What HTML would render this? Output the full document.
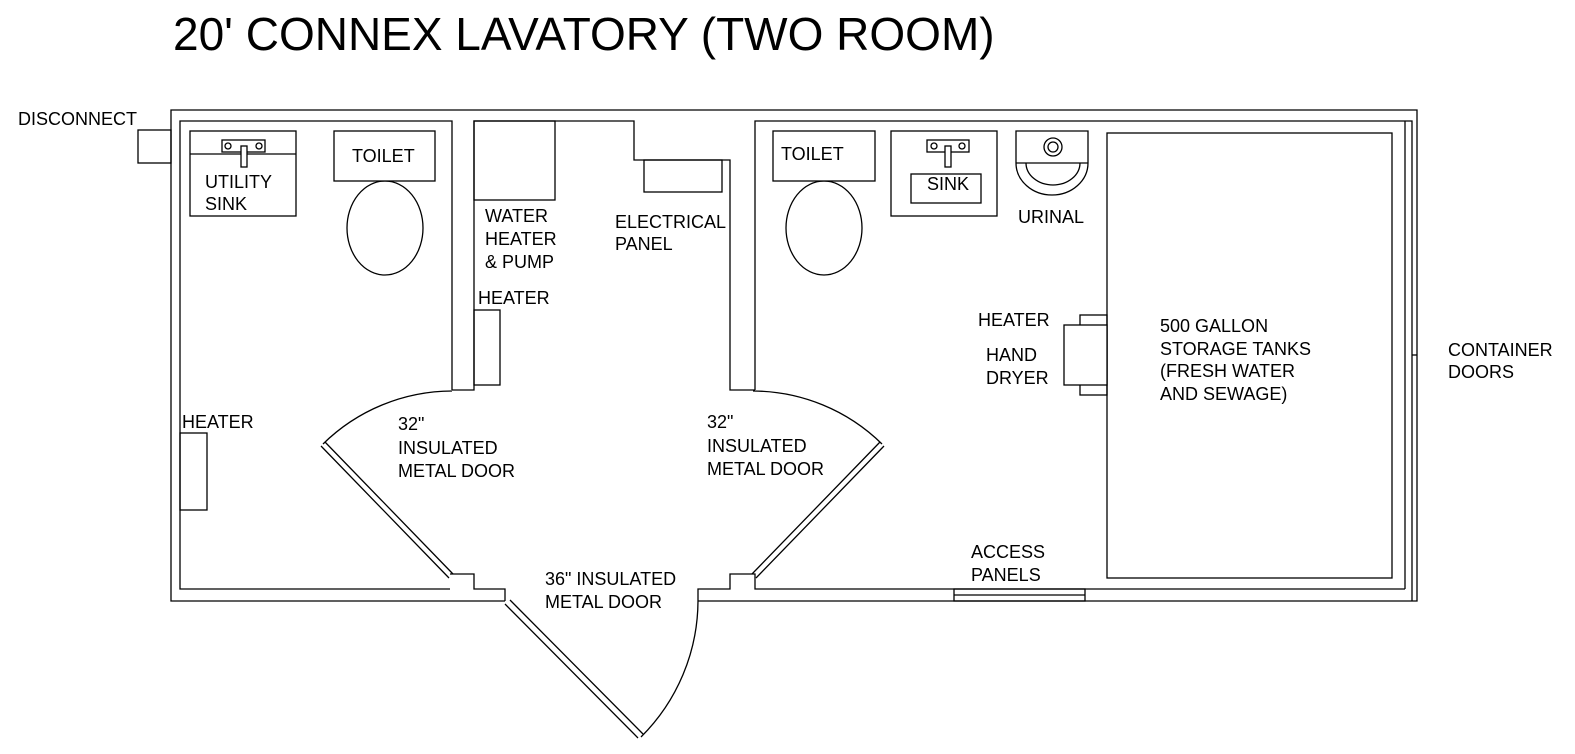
<!DOCTYPE html>
<html><head><style>body{margin:0;background:#fff}svg{display:block}text{font-family:"Liberation Sans",Arial,sans-serif;font-size:18px;fill:#000}</style></head><body>
<svg width="1575" height="754" viewBox="0 0 1575 754" xmlns="http://www.w3.org/2000/svg">
<g fill="none" stroke="#000" stroke-width="1.3">
<polyline points="505,601 171,601 171,110 1417,110 1417,601 698,601"/>
<rect x="138" y="130" width="33" height="33"/>
<polyline points="452,390 452,121 180,121 180,589 450,589"/>
<polyline points="450,574 474,574 474,589 505,589 505,601"/>
<polyline points="452,390 474,390 474,121 634,121 634,160 730,160 730,390 755,390"/>
<rect x="474" y="121" width="81" height="79"/>
<rect x="644" y="160" width="78" height="32"/>
<rect x="474" y="310" width="26" height="75"/>
<polyline points="698,601 698,589 730,589 730,574 755,574 755,589 1405,589"/>
<polyline points="755,390 755,121 1412,121 1412,601"/>
<line x1="1405" y1="121" x2="1405" y2="589"/>
<line x1="1412" y1="355" x2="1417" y2="355"/>
<rect x="954" y="589" width="131" height="12"/>
<line x1="954" y1="595" x2="1085" y2="595"/>
<rect x="190" y="131" width="106" height="85"/>
<line x1="190" y1="154" x2="296" y2="154"/>
<rect x="222" y="140" width="43" height="12"/>
<rect x="241" y="146" width="6" height="21" fill="#fff"/>
<circle cx="228" cy="146" r="3"/><circle cx="259" cy="146" r="3"/>
<ellipse cx="385" cy="228" rx="38" ry="47"/>
<rect x="334" y="131" width="101" height="50" fill="#fff"/>
<rect x="180" y="433" width="27" height="77"/>
<path d="M452,391 A185,185 0 0 0 323,444"/>
<path d="M321,446 L449,578 M325,442 L453,574"/>
<path d="M753,391 A185,185 0 0 1 882,444"/>
<path d="M884,446 L756,578 M880,442 L752,574"/>
<path d="M698,601 A193,193 0 0 1 641,737"/>
<path d="M505,604 L638,738 M510,600 L643,734"/>
<ellipse cx="824" cy="228" rx="38" ry="47"/>
<rect x="773" y="131" width="102" height="50" fill="#fff"/>
<rect x="891" y="131" width="106" height="85"/>
<rect x="911" y="174" width="70" height="29"/>
<rect x="927" y="140" width="42" height="12"/>
<rect x="945" y="146" width="6" height="21" fill="#fff"/>
<circle cx="934" cy="146" r="3"/><circle cx="962" cy="146" r="3"/>
<path d="M1016,131 H1088 V163 A36,32 0 0 1 1016,163 Z"/>
<line x1="1016" y1="163" x2="1088" y2="163"/>
<path d="M1026,163 A27,22 0 0 0 1080,163"/>
<circle cx="1053" cy="147" r="9"/><circle cx="1053" cy="147" r="5"/>
<rect x="1107" y="133" width="285" height="445"/>
<rect x="1080" y="315" width="27" height="80"/>
<rect x="1064" y="325" width="43" height="60" fill="#fff"/>
</g>
<text x="173" y="50" style="font-size:46px">20' CONNEX LAVATORY (TWO ROOM)</text>
<text x="18" y="125">DISCONNECT</text>
<text x="205" y="188">UTILITY</text><text x="205" y="210">SINK</text>
<text x="352" y="162">TOILET</text>
<text x="485" y="222">WATER</text><text x="485" y="245">HEATER</text><text x="485" y="268">&amp; PUMP</text>
<text x="615" y="228">ELECTRICAL</text><text x="615" y="250">PANEL</text>
<text x="478" y="304">HEATER</text>
<text x="182" y="428">HEATER</text>
<text x="398" y="430">32"</text><text x="398" y="454">INSULATED</text><text x="398" y="477">METAL DOOR</text>
<text x="707" y="428">32"</text><text x="707" y="452">INSULATED</text><text x="707" y="475">METAL DOOR</text>
<text x="545" y="585">36" INSULATED</text><text x="545" y="608">METAL DOOR</text>
<text x="781" y="160">TOILET</text>
<text x="927" y="190">SINK</text>
<text x="1018" y="223">URINAL</text>
<text x="978" y="326">HEATER</text>
<text x="986" y="361">HAND</text><text x="986" y="384">DRYER</text>
<text x="1160" y="332">500 GALLON</text><text x="1160" y="355">STORAGE TANKS</text><text x="1160" y="377">(FRESH WATER</text><text x="1160" y="400">AND SEWAGE)</text>
<text x="1448" y="356">CONTAINER</text><text x="1448" y="378">DOORS</text>
<text x="971" y="558">ACCESS</text><text x="971" y="581">PANELS</text>
</svg>
</body></html>
